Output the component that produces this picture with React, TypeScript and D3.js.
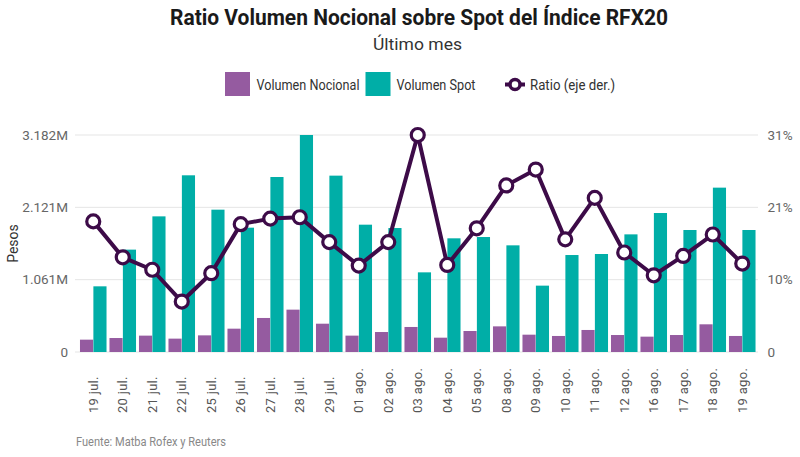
import * as d3 from 'd3';

// Data (volumes in millions of pesos, ratio in %)
const fechas = [
  '19 jul.', '20 jul.', '21 jul.', '22 jul.', '25 jul.', '26 jul.', '27 jul.', '28 jul.', '29 jul.',
  '01 ago.', '02 ago.', '03 ago.', '04 ago.', '05 ago.', '08 ago.', '09 ago.', '10 ago.', '11 ago.',
  '12 ago.', '16 ago.', '17 ago.', '18 ago.', '19 ago.',
];
const volNocional = [
  0.181, 0.205, 0.24, 0.196, 0.244, 0.342, 0.499, 0.621, 0.415,
  0.24, 0.293, 0.367, 0.21, 0.308, 0.376, 0.254, 0.235, 0.323,
  0.249, 0.225, 0.249, 0.406, 0.235,
];
const volSpot = [
  0.963, 1.501, 1.989, 2.591, 2.087, 1.823, 2.566, 3.182, 2.586,
  1.867, 1.818, 1.168, 1.667, 1.686, 1.564, 0.973, 1.422, 1.437,
  1.725, 2.038, 1.789, 2.41, 1.789,
];
const ratio = [
  18.9, 13.7, 11.9, 7.3, 11.4, 18.5, 19.3, 19.5, 15.9,
  12.5, 15.9, 31.4, 12.6, 17.9, 24.1, 26.4, 16.3, 22.3,
  14.4, 11.1, 13.9, 17.0, 12.8,
];
const leftTicks = [0, 1.0607, 2.1213, 3.182];
const leftTickLabels = ['0', '1.061M', '2.121M', '3.182M'];
const rightTicks = [0, 10.467, 20.933, 31.4];
const rightTickLabels = ['0', '10%', '21%', '31%'];
const seriesNames = ['Volumen Nocional', 'Volumen Spot', 'Ratio (eje der.)'];

const COLOR_NOC = '#955ba0';
const COLOR_SPOT = '#00aea7';
const COLOR_LINE = '#3d0b48';
const FONT = 'Roboto, "Noto Sans", sans-serif';

export default function App() {
  const width = 800;
  const height = 457;
  const plot = { left: 78.5, right: 757, top: 135, bottom: 352 };

  const x = d3
    .scaleBand<string>()
    .domain(fechas)
    .range([plot.left, plot.right])
    .paddingInner(0.1)
    .paddingOuter(0.05);

  const inner = d3
    .scaleBand<string>()
    .domain(['noc', 'spot'])
    .range([0, x.bandwidth()])
    .paddingInner(0.02);

  const y = d3.scaleLinear().domain([0, 3.182]).range([plot.bottom, plot.top]);
  const yR = d3.scaleLinear().domain([0, 31.4]).range([plot.bottom, plot.top]);

  const line = d3
    .line<number>()
    .x((_, i) => (x(fechas[i]) as number) + x.bandwidth() / 2)
    .y((d) => yR(d));

  return (
    <svg
      width={width}
      height={height}
      style={{ position: 'absolute', left: 0, top: 0, background: '#fff' }}
      fontFamily={FONT}
    >
      {/* Title & subtitle */}
      <text x={419} y={25} textAnchor="middle" fontSize={22} fontWeight={700} fill="#1a1a1a"
        textLength={498} lengthAdjust="spacingAndGlyphs">
        Ratio Volumen Nocional sobre Spot del Índice RFX20
      </text>
      <text x={417.5} y={50} textAnchor="middle" fontSize={17} fill="#333"
        textLength={89} lengthAdjust="spacingAndGlyphs">
        Último mes
      </text>

      {/* Legend */}
      <g fontSize={15} fill="#333">
        <rect x={225} y={72} width={25} height={24} fill={COLOR_NOC} />
        <text x={256.5} y={89.5} textLength={103} lengthAdjust="spacingAndGlyphs">{seriesNames[0]}</text>
        <rect x={365.5} y={72} width={25} height={24} fill={COLOR_SPOT} />
        <text x={396.5} y={89.5} textLength={79} lengthAdjust="spacingAndGlyphs">{seriesNames[1]}</text>
        <line x1={505} x2={525} y1={84.5} y2={84.5} stroke={COLOR_LINE} strokeWidth={4} />
        <circle cx={515} cy={84.5} r={5} fill="#fff" stroke={COLOR_LINE} strokeWidth={3.5} />
        <text x={530} y={89.5} textLength={85} lengthAdjust="spacingAndGlyphs">{seriesNames[2]}</text>
      </g>

      {/* Grid lines */}
      {leftTicks.map((t) => (
        <line key={t} x1={75} x2={758} y1={y(t)} y2={y(t)} stroke="#e5e5e5" strokeWidth={1} />
      ))}

      {/* Left axis */}
      {leftTicks.map((t, i) => (
        <text key={t} x={68} y={y(t)} dy="0.35em" textAnchor="end" fontSize={13.5} fill="#666">
          {leftTickLabels[i]}
        </text>
      ))}
      <text transform={`translate(18,${(plot.top + plot.bottom) / 2}) rotate(-90)`} textAnchor="middle"
        fontSize={14} fill="#333">
        Pesos
      </text>

      {/* Right axis */}
      {rightTicks.map((t, i) => (
        <text key={t} x={767.5} y={yR(t)} dy="0.35em" textAnchor="start" fontSize={13.5} fill="#666">
          {rightTickLabels[i]}
        </text>
      ))}

      {/* Bars */}
      {fechas.map((f, i) => {
        const x0 = x(f) as number;
        return (
          <g key={f}>
            <rect x={x0 + (inner('noc') as number)} y={y(volNocional[i])} width={inner.bandwidth()}
              height={plot.bottom - y(volNocional[i])} fill={COLOR_NOC} />
            <rect x={x0 + (inner('spot') as number)} y={y(volSpot[i])} width={inner.bandwidth()}
              height={plot.bottom - y(volSpot[i])} fill={COLOR_SPOT} />
          </g>
        );
      })}

      {/* Ratio line */}
      <path d={line(ratio) ?? ''} fill="none" stroke={COLOR_LINE} strokeWidth={4} strokeLinejoin="round" />
      {ratio.map((r, i) => (
        <circle key={i} cx={(x(fechas[i]) as number) + x.bandwidth() / 2} cy={yR(r)} r={6.5}
          fill="#fff" stroke={COLOR_LINE} strokeWidth={3.2} />
      ))}

      {/* X labels */}
      {fechas.map((f) => {
        const cx = (x(f) as number) + x.bandwidth() / 2;
        return (
          <text key={f} transform={`translate(${cx},413) rotate(-90)`} dy="0.35em" textAnchor="start"
            fontSize={13} fill="#555" letterSpacing={0.3}>
            {f}
          </text>
        );
      })}

      {/* Source */}
      <text x={76} y={446} fontSize={12.5} fill="#888" textLength={150} lengthAdjust="spacingAndGlyphs">
        Fuente: Matba Rofex y Reuters
      </text>
    </svg>
  );
}
